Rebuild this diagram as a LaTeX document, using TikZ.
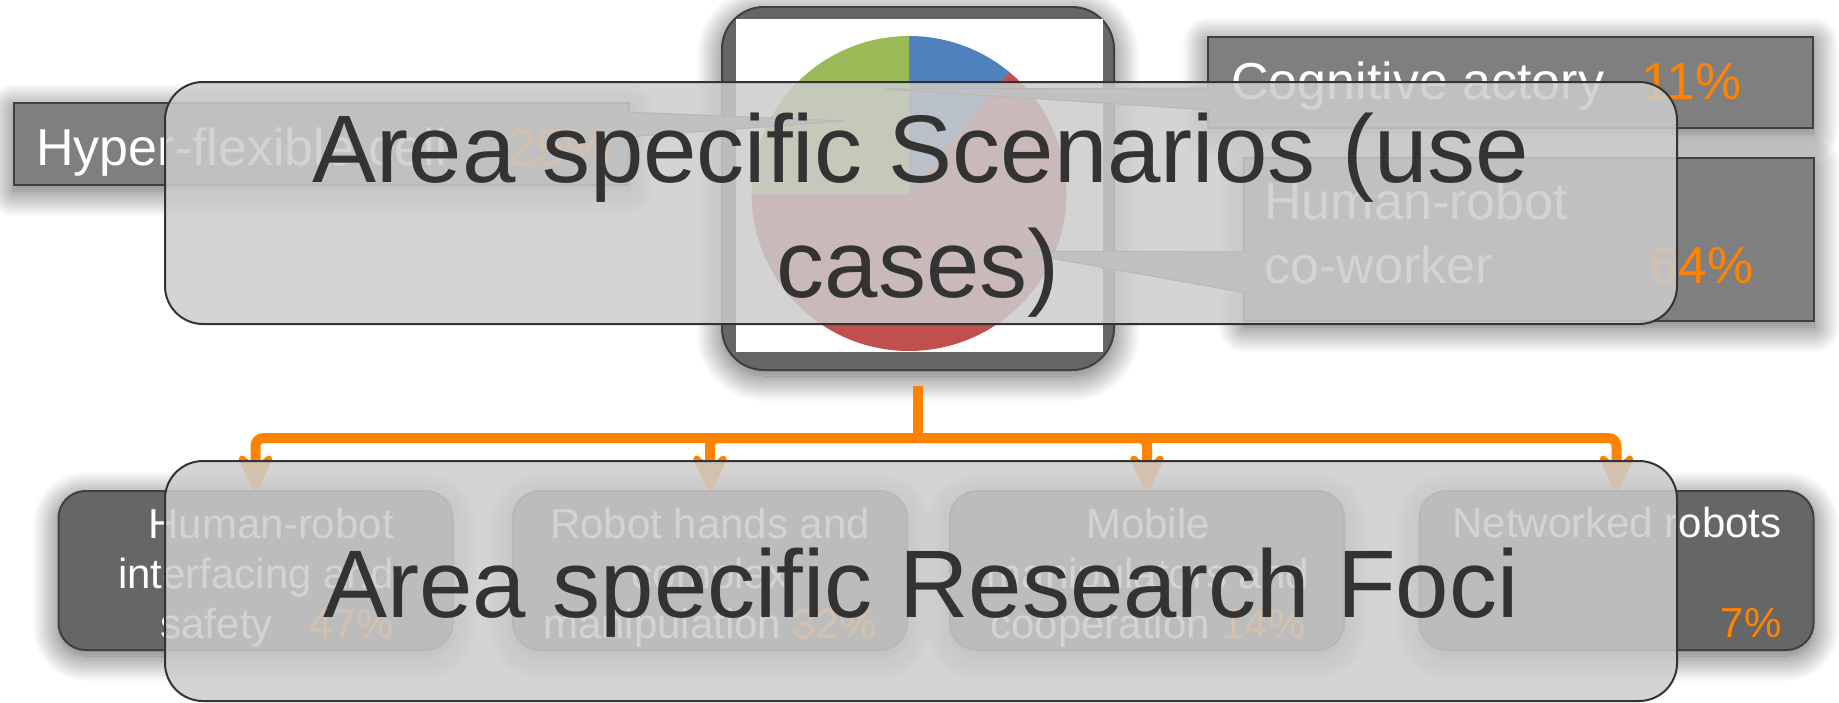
\documentclass[tikz,border=0pt]{standalone}
\usepackage{fontspec}
\setmainfont{Liberation Sans}
\usepackage{xcolor}
\usetikzlibrary{arrows.meta, positioning, shadows.blur}

\definecolor{boxgray}{HTML}{666666}
\definecolor{calloutgray}{HTML}{7F7F7F}
\definecolor{edgegray}{HTML}{404040}
\definecolor{veilgray}{HTML}{CCCCCC}
\definecolor{inkgray}{HTML}{333333}
\definecolor{accent}{HTML}{FF8200}
\definecolor{pieblue}{HTML}{4F81BD}
\definecolor{piered}{HTML}{C0504D}
\definecolor{piegreen}{HTML}{9BBB59}

\newcommand{\pct}[1]{\textcolor{accent}{#1}}

\begin{document}
\begin{tikzpicture}[
x=0.5pt, y=-0.5pt,
glow/.style={blur shadow={shadow xshift=0pt, shadow yshift=-3pt, shadow blur radius=13pt, shadow blur steps=30, shadow opacity=65}},
callout/.style={draw=edgegray, line width=1pt, fill=calloutgray, glow, rectangle},
focus/.style={draw=edgegray, line width=1pt, fill=boxgray, glow, rounded corners=13.5pt, minimum width=197pt, minimum height=79.5pt},
focustxt/.style={text=white, align=center, inner sep=0pt, font=\fontsize{21}{25}\selectfont},
veil/.style={draw=inkgray, line width=1pt, fill=veilgray, fill opacity=0.85, rounded corners=19pt, minimum width=756pt},
veiltxt/.style={text=inkgray, inner sep=0pt, font=\fontsize{48}{57.5}\selectfont},
lbl/.style={text=white, font=\fontsize{26}{32}\selectfont, inner sep=0pt, align=left},
flow/.style={draw=accent, line width=5pt, rounded corners=4pt, -{Stealth[length=25pt, width=24pt, inset=11pt, round]}}
]
\useasboundingbox (0,0) rectangle (1839,702);

\node[draw=edgegray, line width=1pt, fill=boxgray, glow, rounded corners=21pt, minimum width=196pt, minimum height=181.5pt] (frame) at (918,188.5) {};
\node[fill=white, inner sep=0pt, minimum width=183.5pt, minimum height=166.5pt] (chart) at (919.5,185.5) {};
\begin{scope}[shift={(909,193.5)}, y=0.5pt]
\fill[pieblue] (0,0) -- (90:157.5) arc[start angle=90, end angle=50.4, radius=157.5] -- cycle;
\fill[piered] (0,0) -- (50.4:157.5) arc[start angle=50.4, end angle=-180, radius=157.5] -- cycle;
\fill[piegreen] (0,0) -- (180:157.5) arc[start angle=180, end angle=90, radius=157.5] -- cycle;
\end{scope}

\node[callout, minimum width=307.5pt, minimum height=41pt] (hyper) at (321.5,144) {};
\node[callout, minimum width=302.5pt, minimum height=45.5pt] (cogn) at (1510.5,82.5) {};
\node[callout, minimum width=285pt, minimum height=81.5pt] (cowork) at (1529,239.5) {};
\filldraw[fill=calloutgray, draw=edgegray, line width=0.5pt] (626,112) -- (845,121) -- (626,137);
\filldraw[fill=calloutgray, draw=edgegray, line width=0.5pt] (1211,88) -- (885,89) -- (1211,110);
\filldraw[fill=calloutgray, draw=edgegray, line width=0.5pt] (1247,252) -- (1010,251) -- (1247,293);

\node[lbl, anchor=base west] (hypertxt) at (36,165) {Hyper-flexible cell\hspace{30.5pt}\pct{25\%}};
\node[lbl, anchor=base west] (cogntxt) at (1231,99) {Cognitive actory\hspace{18.5pt}\pct{11\%}};
\node[lbl, anchor=base west] (coworktxt) at (1264,283) {Human-robot\\co-worker\hspace{78.5pt}\pct{64\%}};

\node[focus] (hri) at (255.5,570.5) {};
\node[focus] (hands) at (710,570.5) {};
\node[focus] (mobile) at (1147,570.5) {};
\node[focus] (net) at (1616.5,570.5) {};
\node[focustxt, align=right, anchor=base] (hritxt) at (256,638) {Human-robot\\interfacing and\\safety\hspace{18.5pt}\pct{47\%}};
\node[focustxt, anchor=base] (handstxt) at (710,638) {Robot hands and\\complex\\manipulation \pct{32\%}};
\node[focustxt, anchor=base] (mobiletxt) at (1148,638) {Mobile\\manipulators and\\cooperation \pct{14\%}};
\node[focustxt, anchor=base] (nettxt) at (1617,637) {Networked robots\\\mbox{}\\\makebox[164.5pt][r]{\pct{7\%}}};

\coordinate (split) at (918,438);
\draw[accent, line width=5pt] ([yshift=-7.5pt]frame.south) -- (split);
\foreach \dst in {hri, hands, mobile, net}
  \draw[flow] (split) -| (\dst.north);

\node[veil, minimum height=121pt] (scen) at (921,203) {};
\node[veil, minimum height=120pt] (foci) at (921,581) {};
\node[veiltxt, anchor=base] (scentxt) at (921,182) {Area specific Scenarios (use};
\node[veiltxt, anchor=base] (scentxtb) at (918,297) {cases)};
\node[veiltxt, anchor=base] (focitxt) at (921,617) {Area specific Research Foci};

\end{tikzpicture}
\end{document}
